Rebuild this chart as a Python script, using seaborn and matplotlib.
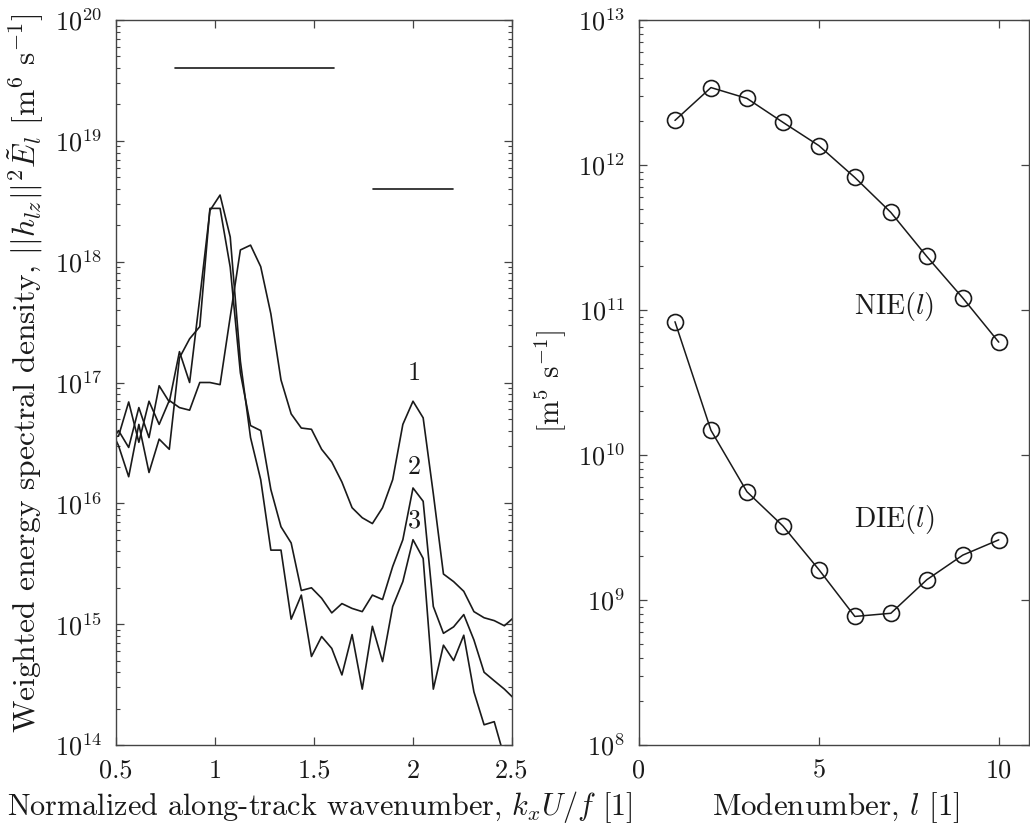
import matplotlib
matplotlib.use("Agg")
import matplotlib.pyplot as plt
import matplotlib.ticker as mticker
import numpy as np
import pandas as pd
import seaborn as sns

# ---------------- data ----------------
kx = [0.4615, 0.5128, 0.5641, 0.6154, 0.6667, 0.7179, 0.7692, 0.8205, 0.8718,
      0.9231, 0.9744, 1.0256, 1.0769, 1.1282, 1.1795, 1.2308, 1.2821, 1.3333,
      1.3846, 1.4359, 1.4872, 1.5385, 1.5897, 1.6410, 1.6923, 1.7436, 1.7949,
      1.8462, 1.8974, 1.9487, 2.0000, 2.0513, 2.1026, 2.1538, 2.2051, 2.2564,
      2.3077, 2.3590, 2.4103, 2.4615, 2.5128]

spec1 = [3.5e16, 3.6e16, 6.9e16, 3.2e16, 7.0e16, 4.5e16, 7.1e16, 6.2e16, 5.9e16,
         1.0e17, 1.0e17, 9.6e16, 3.5e17, 1.25e18, 1.37e18, 9.1e17, 3.7e17, 1.05e17,
         5.5e16, 4.2e16, 4.1e16, 2.8e16, 2.2e16, 1.5e16, 9.2e15, 7.6e15, 6.8e15,
         9.2e15, 1.57e16, 4.5e16, 7.0e16, 5.1e16, 1.2e16, 2.6e15, 2.25e15, 1.87e15,
         1.27e15, 1.13e15, 1.07e15, 9.7e14, 1.15e15]

spec2 = [4.5e16, 3.0e16, 1.66e16, 4.5e16, 1.8e16, 3.4e16, 2.8e16, 1.6e17, 2.3e17,
         2.9e17, 2.76e18, 2.76e18, 9.0e17, 1.2e17, 4.4e16, 4.0e16, 1.3e16, 6.4e15,
         4.7e15, 1.9e15, 2.0e15, 1.64e15, 1.24e15, 1.48e15, 1.35e15, 1.27e15, 1.74e15,
         1.6e15, 3.0e15, 5.0e15, 1.34e16, 1.04e16, 1.4e15, 8.4e14, 9.5e14, 1.2e15,
         7.4e14, 4.0e14, 3.4e14, 2.9e14, 2.4e14]

spec3 = [3.0e16, 4.0e16, 2.9e16, 6.2e16, 3.5e16, 9.4e16, 6.9e16, 1.8e17, 1.0e17,
         5.0e17, 2.65e18, 3.56e18, 1.6e18, 1.5e17, 3.5e16, 1.57e16, 4.1e15, 4.1e15,
         1.1e15, 1.74e15, 5.4e14, 7.9e14, 6.3e14, 3.8e14, 8.2e14, 2.9e14, 9.6e14,
         4.9e14, 1.4e15, 2.25e15, 5.0e15, 3.5e15, 2.9e14, 6.7e14, 5.0e14, 8.1e14,
         2.75e14, 1.47e14, 1.56e14, 7.9e13, 5.0e13]

series_labels = ["1", "2", "3"]
label_pos = [(2.008, 1.2e17), (2.008, 2.0e16), (2.008, 7.2e15)]

# horizontal reference bars (x-start, x-end, level)
bars = [(0.8, 1.6, 4.0e19), (1.8, 2.2, 4.0e18)]

modes = [1, 2, 3, 4, 5, 6, 7, 8, 9, 10]
nie = [2.03e12, 3.42e12, 2.88e12, 1.97e12, 1.36e12, 8.2e11, 4.71e11, 2.34e11, 1.21e11, 6.0e10]
die = [8.3e10, 1.48e10, 5.58e9, 3.24e9, 1.62e9, 7.7e8, 8.1e8, 1.38e9, 2.04e9, 2.6e9]

left_xticks = [0.5, 1.0, 1.5, 2.0, 2.5]
left_xticklabels = ["0.5", "1", "1.5", "2", "2.5"]
left_yticks = [1e14, 1e15, 1e16, 1e17, 1e18, 1e19, 1e20]
right_xticks = [0, 5, 10]
right_xticklabels = ["0", "5", "10"]
right_yticks = [1e8, 1e9, 1e10, 1e11, 1e12, 1e13]

# ---------------- style ----------------
sns.set_style("ticks")
plt.rcParams['font.family'] = ['cmr10', 'DejaVu Serif']
plt.rcParams['mathtext.fontset'] = 'cm'
plt.rcParams['axes.formatter.use_mathtext'] = True
plt.rcParams['axes.unicode_minus'] = False

INK = "#1a1a1a"
SPINE = "#444444"
TICK_FS = 19
LAB_FS = 21
W, H = 1030, 830

fig = plt.figure(figsize=(W / 100, H / 100), dpi=100)
axL = fig.add_axes([116 / W, 85 / H, 396 / W, 725 / H])
axR = fig.add_axes([639 / W, 85 / H, 390 / W, 725 / H])


def minor_log_ticks(majors):
    out = []
    for m in majors[:-1]:
        out.extend([m * s for s in range(2, 10)])
    return out


# ---------------- left panel ----------------
df = pd.DataFrame({"kx": kx * 3,
                   "E": spec1 + spec2 + spec3,
                   "s": ["1"] * len(kx) + ["2"] * len(kx) + ["3"] * len(kx)})
for s in series_labels:
    sub = df[df["s"] == s]
    sns.lineplot(data=sub, x="kx", y="E", ax=axL, color=INK, linewidth=1.2,
                 estimator=None, sort=False, legend=False)

for (x0, x1, lv) in bars:
    bdf = pd.DataFrame({"x": [x0, x1], "y": [lv, lv]})
    sns.lineplot(data=bdf, x="x", y="y", ax=axL, color=INK, linewidth=1.2,
                 estimator=None, legend=False)

num_texts = []
for lab, (lx, ly) in zip(series_labels, label_pos):
    num_texts.append(axL.text(lx, ly, lab, ha="center", va="center",
                              fontsize=TICK_FS, color=INK))

axL.set_yscale("log")
axL.set_xlim(0.5, 2.5)
axL.set_ylim(1e14, 1e20)
axL.set_xticks(left_xticks)
axL.set_xticklabels(left_xticklabels)
axL.yaxis.set_major_locator(mticker.FixedLocator(left_yticks))
axL.yaxis.set_major_formatter(mticker.LogFormatterSciNotation())
axL.yaxis.set_minor_locator(mticker.FixedLocator(minor_log_ticks(left_yticks)))
axL.yaxis.set_minor_formatter(mticker.NullFormatter())
axL.set_xlabel(r"Normalized along-track wavenumber, $k_xU/f$ [1]", fontsize=LAB_FS)
axL.set_ylabel(r"Weighted energy spectral density, $||h_{lz}||^2\tilde{E}_l$ [m$^6$ s$^{-1}$]",
               fontsize=LAB_FS)

# ---------------- right panel ----------------
rdf = pd.DataFrame({"l": modes * 2, "v": nie + die,
                    "q": ["NIE"] * len(modes) + ["DIE"] * len(modes)})
for q in ["NIE", "DIE"]:
    sub = rdf[rdf["q"] == q]
    sns.lineplot(data=sub, x="l", y="v", ax=axR, color=INK, linewidth=1.1,
                 marker="o", markersize=11.5, markerfacecolor="none",
                 markeredgecolor=INK, markeredgewidth=1.2,
                 estimator=None, legend=False)

t_nie = axR.text(7.08, 1.05e11, r"NIE($l$)", ha="center", va="center", fontsize=TICK_FS, color=INK)
t_die = axR.text(7.08, 3.6e9, r"DIE($l$)", ha="center", va="center", fontsize=TICK_FS, color=INK)

axR.set_yscale("log")
axR.set_xlim(0, 10.84)
axR.set_ylim(1e8, 1e13)
axR.set_xticks(right_xticks)
axR.set_xticklabels(right_xticklabels)
axR.yaxis.set_major_locator(mticker.FixedLocator(right_yticks))
axR.yaxis.set_major_formatter(mticker.LogFormatterSciNotation())
axR.yaxis.set_minor_locator(mticker.FixedLocator(minor_log_ticks(right_yticks)))
axR.yaxis.set_minor_formatter(mticker.NullFormatter())
axR.set_xlabel(r"Modenumber, $l$ [1]", fontsize=LAB_FS)
axR.set_ylabel(r"[m$^5$ s$^{-1}$]", fontsize=LAB_FS)

# ---------------- common axis styling ----------------
for ax in (axL, axR):
    for sp in ax.spines.values():
        sp.set_visible(True)
        sp.set_color(SPINE)
        sp.set_linewidth(1.0)
    ax.tick_params(which="both", direction="in", top=True, right=True,
                   color=SPINE, labelcolor=INK, labelsize=TICK_FS)
    ax.tick_params(which="major", length=6, width=0.9, pad=10)
    ax.tick_params(which="minor", length=3, width=0.8)
    ax.xaxis.label.set_color(INK)
    ax.yaxis.label.set_color(INK)

axR.tick_params(axis="y", which="minor", right=False)
axL.tick_params(axis="x", which="minor", bottom=False, top=False)
axR.tick_params(axis="x", which="minor", bottom=False, top=False)

# ---------------- fit text sizes / positions to the reference layout ----------------
fig.canvas.draw()
rend = fig.canvas.get_renderer()

# tick label size: "10^20" should be ~47 px wide
top_lab = [t for t in axL.get_yticklabels() if t.get_text()][-1]
w = top_lab.get_window_extent(rend).width
tick_fs = TICK_FS * 47.0 / w
for ax in (axL, axR):
    ax.tick_params(labelsize=tick_fs)
for t in num_texts + [t_nie, t_die]:
    t.set_fontsize(tick_fs)
fig.canvas.draw()

# NIE(l) label ~80 px wide
w = t_nie.get_window_extent(rend).width
fs_txt = t_nie.get_fontsize() * 80.0 / w
t_nie.set_fontsize(fs_txt)
t_die.set_fontsize(fs_txt)


def fit_and_place(ax, axis, size_px, cx, cy=None, bottom=None):
    lab = ax.xaxis.label if axis == "x" else ax.yaxis.label
    if axis == "x":
        ax.xaxis.set_label_coords(0.5, -0.06)
    else:
        ax.yaxis.set_label_coords(-0.2, 0.5)
    fig.canvas.draw()
    bb = lab.get_window_extent(rend)
    cur = bb.width if axis == "x" else bb.height
    lab.set_fontsize(lab.get_fontsize() * size_px / cur)
    fig.canvas.draw()
    bb = lab.get_window_extent(rend)
    dx = cx - (bb.x0 + bb.x1) / 2.0
    if bottom is not None:
        dy = (H - bottom) - bb.y0
    else:
        dy = (H - cy) - (bb.y0 + bb.y1) / 2.0
    px, py = lab.get_position()
    lab.set_position((px + dx / ax.bbox.width, py + dy / ax.bbox.height))


fit_and_place(axL, "x", 626.0, 320.0, bottom=825.0)
fit_and_place(axR, "x", 248.0, 836.0, bottom=825.0)
fit_and_place(axL, "y", 720.0, 26.0, cy=373.0)
fit_and_place(axR, "y", 103.0, 550.0, cy=382.0)

fig.savefig("out.png", dpi=100)
